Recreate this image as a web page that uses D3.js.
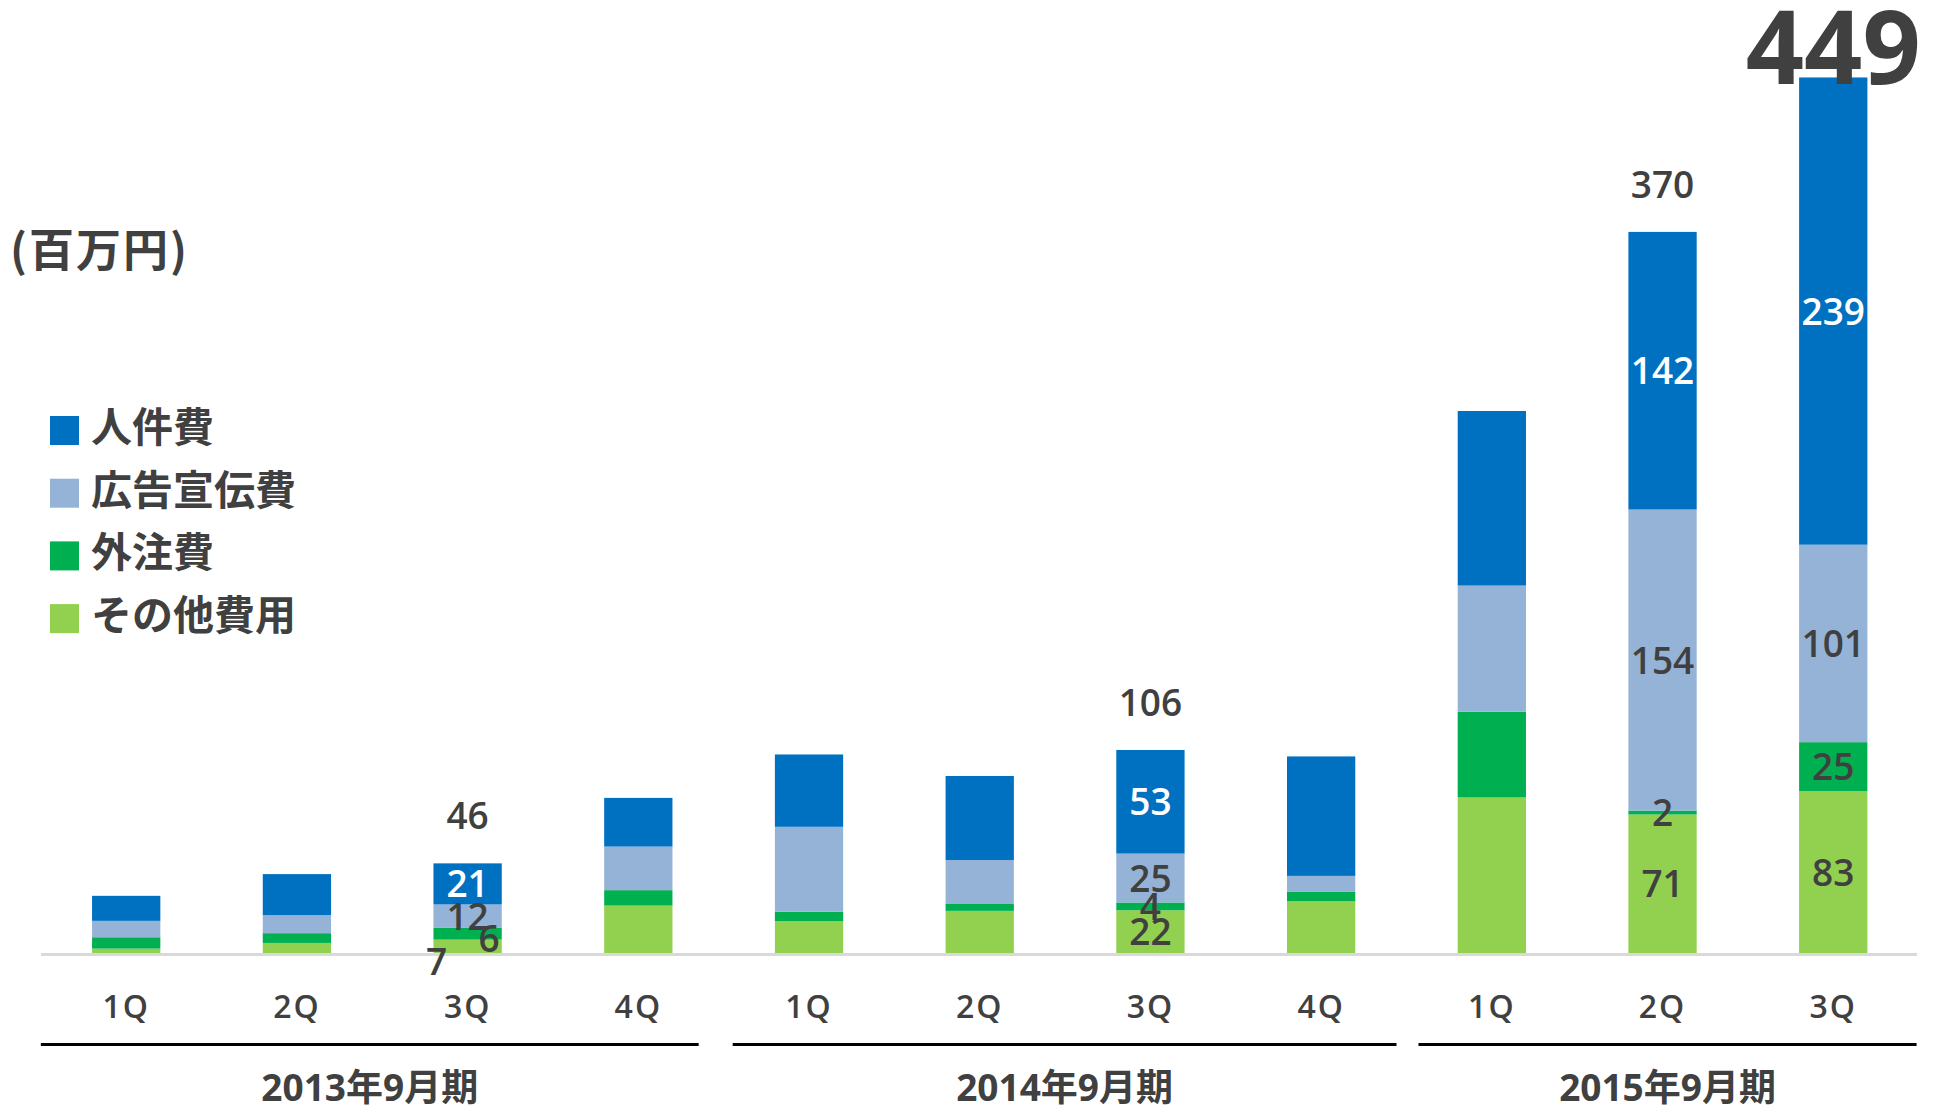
<!DOCTYPE html>
<html>
<head>
<meta charset="utf-8">
<script src="https://cdn.jsdelivr.net/npm/d3@7"></script>
<style>
  html, body { margin: 0; padding: 0; background: #fff; }
  svg { display: block; }
</style>
</head>
<body>
<svg id="chart" width="1937" height="1109"></svg>
<script>
// ---- data ----
const quarters = ["1Q","2Q","3Q","4Q","1Q","2Q","3Q","4Q","1Q","2Q","3Q"];
const fiscalYears = ["2013年9月期","2014年9月期","2015年9月期"];
const fiscalGroup = [0,0,0,0,1,1,1,1,2,2,2];
const personnel   = [12.8, 21.0, 21, 24.9, 37.0, 43.0, 53, 61.1, 89.3, 142, 239];
const advertising = [8.4, 9.2, 12, 22.3, 43.4, 22.2, 25, 8.2, 64.5, 154, 101];
const outsourcing = [5.8, 5.0, 6, 7.9, 4.8, 3.8, 4, 4.8, 43.9, 2, 25];
const other       = [2.4, 5.3, 7, 24.4, 16.5, 21.7, 22, 26.6, 79.7, 71, 83];
const totalLabels = [null, null, 46, null, null, null, 106, null, null, 370, 449];
const labeledBars = [2, 6, 9, 10];
const seriesNames = ["人件費","広告宣伝費","外注費","その他費用"];
const unitLabel = "(百万円)";

// ---- setup ----
const svg = d3.select("#chart");
const textColor = "#404040";
const numFont = "'Open Sans', 'Noto Sans CJK JP', sans-serif";
const cjkFont = "'Noto Sans CJK JP', 'Noto Sans', sans-serif";

const keys = ["other","outsourcing","advertising","personnel"];
const colors = {
  personnel: "#0070C0",
  advertising: "#95B3D7",
  outsourcing: "#00B050",
  other: "#92D050"
};
const rows = quarters.map((q, i) => ({
  i, personnel: personnel[i], advertising: advertising[i],
  outsourcing: outsourcing[i], other: other[i]
}));
const stacked = d3.stack().keys(keys)(rows);

const x = d3.scaleBand().domain(d3.range(quarters.length))
  .range([40.85, 1918.6]).paddingInner(0.6).paddingOuter(0.3);
const y = d3.scaleLinear().domain([0, 460]).range([953.3, 54]);
const bw = x.bandwidth();
const step = x.step();

// ---- bars ----
const gBars = svg.append("g");
stacked.forEach(layer => {
  gBars.selectAll(null).data(layer).enter().append("rect")
    .attr("x", d => x(d.data.i))
    .attr("y", d => y(d[1]))
    .attr("width", bw)
    .attr("height", d => y(d[0]) - y(d[1]))
    .attr("fill", colors[layer.key]);
});

// ---- baseline ----
svg.append("line")
  .attr("x1", 41).attr("x2", 1917)
  .attr("y1", y(0) + 1.2).attr("y2", y(0) + 1.2)
  .attr("stroke", "#d9d9d9").attr("stroke-width", 3);

// ---- segment labels ----
const nudges = { "2-other": [-31, 15.5], "2-outsourcing": [21.5, 5] };
const gLab = svg.append("g");
stacked.forEach(layer => {
  layer.forEach(d => {
    const i = d.data.i;
    if (!labeledBars.includes(i)) return;
    const nd = nudges[i + "-" + layer.key] || [0, 0];
    const cx = x(i) + bw / 2 + nd[0];
    const cy = (y(d[0]) + y(d[1])) / 2 + 13.5 + nd[1];
    gLab.append("text")
      .attr("x", cx).attr("y", cy)
      .attr("text-anchor", "middle")
      .attr("font-family", numFont)
      .attr("font-weight", 600)
      .attr("font-size", 37)
      .attr("fill", layer.key === "personnel" ? "#ffffff" : textColor)
      .text(d3.format("d")(d.data[layer.key]));
  });
});

// ---- total labels ----
const topLayer = stacked[stacked.length - 1];
const maxTotal = d3.max(totalLabels);
totalLabels.forEach((t, i) => {
  if (t == null) return;
  const top = y(topLayer[i][1]);
  const big = t === maxTotal;
  svg.append("text")
    .attr("x", x(i) + bw / 2)
    .attr("y", big ? top + 6.6 : top - 34)
    .attr("text-anchor", "middle")
    .attr("font-family", numFont)
    .attr("font-weight", big ? 700 : 600)
    .attr("font-size", big ? 102 : 37)
    .attr("fill", textColor)
    .text(t);
});

// ---- quarter axis ----
const axis = d3.axisBottom(x).tickSize(0).tickFormat(i => quarters[i]);
const gAxis = svg.append("g").attr("transform", `translate(0,${y(0)})`).call(axis);
gAxis.select(".domain").remove();
gAxis.selectAll("text")
  .attr("y", 65).attr("dy", null)
  .attr("font-family", numFont)
  .attr("font-weight", 600)
  .attr("font-size", 32)
  .attr("letter-spacing", 2)
  .attr("fill", textColor);

// ---- fiscal year groups ----
const insets = [[0, 25], [9, 10], [12, 2]];
fiscalYears.forEach((fy, g) => {
  const idx = d3.range(quarters.length).filter(i => fiscalGroup[i] === g);
  const x0 = x(idx[0]) - (step - bw) / 2 + insets[g][0];
  const x1 = x(idx[idx.length - 1]) + bw + (step - bw) / 2 - insets[g][1];
  svg.append("line")
    .attr("x1", x0).attr("x2", x1)
    .attr("y1", 1044.5).attr("y2", 1044.5)
    .attr("stroke", "#000").attr("stroke-width", 3);
  svg.append("text")
    .attr("x", (x0 + x1) / 2).attr("y", 1101)
    .attr("text-anchor", "middle")
    .attr("font-family", numFont)
    .attr("font-weight", 700)
    .attr("font-size", 37)
    .attr("fill", textColor)
    .text(fy);
});

// ---- unit label ----
svg.append("text")
  .attr("x", 10).attr("y", 267)
  .attr("font-family", cjkFont)
  .attr("font-weight", 700)
  .attr("font-size", 45)
  .attr("letter-spacing", 2)
  .attr("fill", textColor)
  .text(unitLabel);

// ---- legend ----
const legendKeys = ["personnel","advertising","outsourcing","other"];
const gLeg = svg.append("g");
legendKeys.forEach((k, j) => {
  const base = 442 + j * 62.7;
  gLeg.append("rect")
    .attr("x", 50).attr("y", base - 26)
    .attr("width", 29).attr("height", 29)
    .attr("fill", colors[k]);
  gLeg.append("text")
    .attr("x", 91).attr("y", base)
    .attr("font-family", cjkFont)
    .attr("font-weight", 700)
    .attr("font-size", 41)
    .attr("fill", textColor)
    .text(seriesNames[j]);
});
</script>
</body>
</html>
